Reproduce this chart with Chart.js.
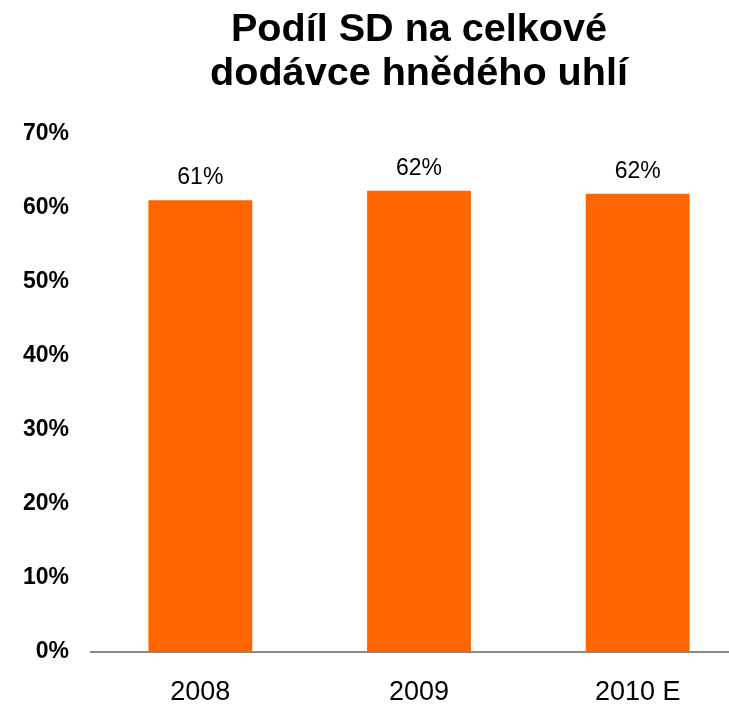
<!DOCTYPE html>
<html>
<head>
<meta charset="utf-8">
<script src="https://cdn.jsdelivr.net/npm/chart.js@4/dist/chart.umd.min.js"></script>
<style>
  body { margin: 0; background: #fff; overflow: hidden; }
  #wrap { width: 729px; height: 704px; overflow: hidden; }
</style>
</head>
<body>
<div id="wrap"><canvas id="podilChart" width="747" height="704"></canvas></div>
<script>
const years = ["2008", "2009", "2010 E"];
const shares = [61.0, 62.3, 61.9];
const yTicks = [0, 10, 20, 30, 40, 50, 60, 70];
const titleLines = ["Podíl SD na celkové", "dodávce hnědého uhlí"];

const FONT = "'Liberation Sans', Arial, sans-serif";

// popisky hodnot nad sloupci
const valueLabels = {
  id: "valueLabels",
  afterDatasetsDraw(chart) {
    const ctx = chart.ctx;
    const meta = chart.getDatasetMeta(0);
    ctx.save();
    ctx.font = "23px " + FONT;
    ctx.fillStyle = "#000";
    ctx.textAlign = "center";
    ctx.textBaseline = "alphabetic";
    meta.data.forEach((bar, i) => {
      ctx.fillText(Math.round(shares[i]) + "%", bar.x, bar.y - 16);
    });
    ctx.restore();
  }
};

const ctx = document.getElementById("podilChart").getContext("2d");
new Chart(ctx, {
  type: "bar",
  data: {
    labels: years,
    datasets: [{
      data: shares,
      backgroundColor: "#ff6600",
      borderWidth: 0,
      categoryPercentage: 1,
      barPercentage: 0.475
    }]
  },
  options: {
    responsive: false,
    animation: false,
    layout: { padding: 0 },
    plugins: {
      legend: { display: false },
      tooltip: { enabled: false },
      title: {
        display: true,
        text: titleLines,
        fullSize: false,
        color: "#000",
        font: { family: FONT, size: 39.6, weight: "bold", lineHeight: 1.12 },
        padding: { top: 8, bottom: 37 }
      }
    },
    scales: {
      x: {
        grid: { display: false, drawTicks: false },
        border: { display: true, color: "#888", width: 2 },
        ticks: {
          color: "#000",
          padding: 27,
          font: { family: FONT, size: 27, lineHeight: 1 }
        },
        afterFit: scale => { scale.height = 52; }
      },
      y: {
        min: 0,
        max: 70,
        afterBuildTicks: axis => { axis.ticks = yTicks.map(v => ({ value: v })); },
        grid: { display: false, drawTicks: false },
        border: { display: false },
        ticks: {
          color: "#000",
          padding: 22,
          font: { family: FONT, size: 23, weight: "bold" },
          callback: v => v + "%"
        },
        afterFit: scale => { scale.width = 91; }
      }
    }
  },
  plugins: [valueLabels]
});
</script>
</body>
</html>
